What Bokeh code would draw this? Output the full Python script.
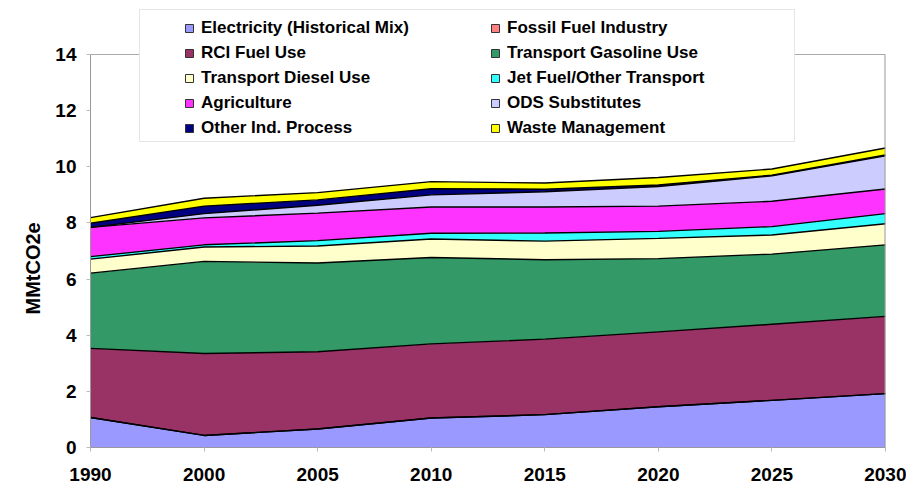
import numpy as np
from bokeh.plotting import figure
from bokeh.models import Range1d, FixedTicker, Legend, LegendItem, ColumnDataSource, Span, Title
from bokeh.embed import file_html
from bokeh.resources import INLINE

years = ["1990", "2000", "2005", "2010", "2015", "2020", "2025", "2030"]

electricity = [1.07, 0.43, 0.66, 1.05, 1.17, 1.45, 1.68, 1.92]
fossil_fuel_industry = [0.0, 0.0, 0.0, 0.0, 0.0, 0.0, 0.0, 0.0]
rci_fuel = [2.46, 2.92, 2.75, 2.64, 2.69, 2.67, 2.71, 2.75]
transport_gasoline = [2.68, 3.28, 3.16, 3.08, 2.83, 2.61, 2.50, 2.55]
transport_diesel = [0.50, 0.51, 0.61, 0.66, 0.66, 0.72, 0.68, 0.75]
jet_fuel = [0.09, 0.08, 0.19, 0.20, 0.29, 0.25, 0.30, 0.36]
agriculture = [1.04, 0.96, 0.98, 0.94, 0.93, 0.90, 0.90, 0.88]
ods_substitutes = [0.0, 0.15, 0.28, 0.43, 0.54, 0.70, 0.91, 1.18]
other_ind_process = [0.15, 0.27, 0.19, 0.22, 0.09, 0.05, 0.02, 0.03]
waste_management = [0.20, 0.28, 0.26, 0.25, 0.22, 0.27, 0.22, 0.25]

names = ["Electricity (Historical Mix)", "Fossil Fuel Industry", "RCI Fuel Use",
         "Transport Gasoline Use", "Transport Diesel Use", "Jet Fuel/Other Transport",
         "Agriculture", "ODS Substitutes", "Other Ind. Process", "Waste Management"]
values = [electricity, fossil_fuel_industry, rci_fuel, transport_gasoline,
          transport_diesel, jet_fuel, agriculture, ods_substitutes,
          other_ind_process, waste_management]
colors = ["#9999FF", "#FF8080", "#993366", "#339966", "#FFFFCC", "#33FFFF",
          "#FF33FF", "#CCCCFF", "#000080", "#FFFF00"]

y_ticks = [0, 2, 4, 6, 8, 10, 12, 14]
y_title = "MMtCO2e"

x = list(range(len(years)))
keys = ["s%d" % i for i in range(len(names))]
data = {"x": x}
for k, v in zip(keys, values):
    data[k] = v
source = ColumnDataSource(data)

FONT = "Liberation Sans"

# layout geometry (pixels)
W, H = 906, 488
FRAME_TOP, FRAME_BOTTOM = 2, 447          # frame extends above the y=14 line to host the legend
Y14_PIX = 54                               # pixel row where the 14 line sits
ymax = y_ticks[-1] * (FRAME_BOTTOM - FRAME_TOP) / (FRAME_BOTTOM - Y14_PIX)

p = figure(width=W, height=H, output_backend="svg", toolbar_location=None,
           x_range=Range1d(0, len(years) - 1), y_range=Range1d(0, ymax))
p.min_border_left = 90
p.min_border_right = 21
p.min_border_top = FRAME_TOP
p.min_border_bottom = H - FRAME_BOTTOM
p.background_fill_color = "white"
p.border_fill_color = "white"
p.outline_line_color = None
p.xgrid.visible = False
p.ygrid.visible = False

p.varea_stack(stackers=keys, x="x", color=colors, source=source)

cum = np.cumsum(np.array(values), axis=0)
for row in cum:
    p.line(x, list(row), line_color="black", line_width=1.4)

# plot-area border (top and right)
p.add_layout(Span(location=y_ticks[-1], dimension="width", line_color="#aaaaaa", line_width=1))
p.segment(x0=[x[-1]], y0=[y_ticks[0]], x1=[x[-1]], y1=[y_ticks[-1]],
          line_color="#999999", line_width=2)

# axes
p.xaxis.ticker = FixedTicker(ticks=x)
p.xaxis.major_label_overrides = {i: y for i, y in zip(x, years)}
p.yaxis.ticker = FixedTicker(ticks=y_ticks)
p.yaxis.bounds = (y_ticks[0], y_ticks[-1])
for ax in (p.xaxis[0], p.yaxis[0]):
    ax.axis_line_color = "#999999"
    ax.major_tick_line_color = "#bbbbbb"
    ax.major_tick_out = 4
    ax.major_tick_in = 0
    ax.minor_tick_line_color = None
    ax.major_label_text_font = FONT
    ax.major_label_text_font_style = "bold"
    ax.major_label_text_font_size = "19px"
    ax.major_label_text_color = "black"
p.xaxis.major_label_standoff = 16
p.yaxis.major_label_standoff = 10

# y-axis title, centred on the 0..14 part of the axis
yt = Title(text=y_title, align="left", offset=133, standoff=17,
           text_font=FONT, text_font_style="bold", text_font_size="20px",
           text_color="black")
p.add_layout(yt, "left")

# legend box (frame)
dummy = p.quad(left=[], right=[], top=[], bottom=[], fill_alpha=0, line_alpha=0)
box = Legend(items=[LegendItem(label=" ", renderers=[dummy])], location=(49, 305),
             glyph_width=1, glyph_height=1, label_standoff=0, label_width=653,
             label_height=131, padding=0, spacing=0, margin=0,
             border_line_color="#cccccc", border_line_width=1,
             background_fill_color="white", background_fill_alpha=1.0,
             label_text_font_size="1px")
p.add_layout(box, "center")

# legend swatches: off-range proxy quads (never visible in the plot area)
items = []
for n, c in zip(names, colors):
    r = p.quad(left=[-2], right=[-1], top=[1], bottom=[0],
               fill_color=c, line_color="#333333", line_width=1)
    items.append(LegendItem(label=n, renderers=[r]))

leg = Legend(items=items, location=(94, 309), orientation="horizontal", nrows=5, ncols=2,
             glyph_width=10, glyph_height=10, label_standoff=7, label_width=284,
             label_height=20, spacing=5, padding=0, margin=0,
             border_line_alpha=0, background_fill_alpha=0,
             label_text_font=FONT, label_text_font_style="bold",
             label_text_font_size="17px", label_text_color="black")
p.add_layout(leg, "center")

open("out.html", "w").write(file_html(p, INLINE))
